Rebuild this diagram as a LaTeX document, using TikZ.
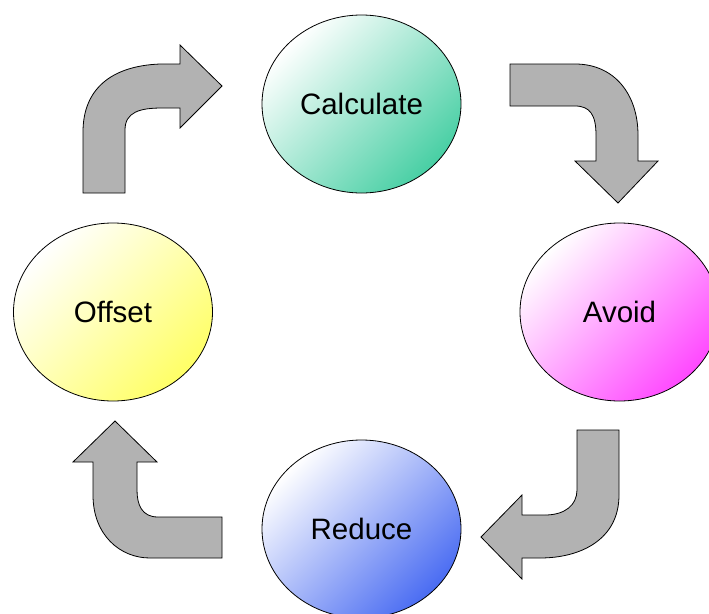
\documentclass[tikz,border=0pt]{standalone}
\usepackage{fontspec}
\setmainfont{Liberation Sans}
\usetikzlibrary{shapes.geometric}
\definecolor{cgreen}{HTML}{48CFA4}
\definecolor{cmag}{HTML}{FF48FF}
\definecolor{cyel}{HTML}{FFFF66}
\definecolor{cblue}{HTML}{4A6CF2}
\definecolor{agray}{HTML}{B2B2B2}
\tikzset{
  bubble/.style={ellipse, draw=black, line width=0.8pt, minimum width=199pt, minimum height=178pt, inner sep=0pt,
    font=\fontsize{29.5}{34}\selectfont},
  fillwith/.style={top color=white, bottom color=#1, shading angle=45},
  bigarrow/.style={fill=agray, draw=black, line width=0.8pt, line join=miter}
}
\begin{document}
\begin{tikzpicture}[x=1pt,y=-1pt]
\useasboundingbox (0,0) rectangle (709,613);
\fill[white] (0,0) rectangle (709,613);
\node[bubble, fillwith=cgreen] (calc) at (361.5,104) {Calculate};
\node[bubble, fillwith=cmag] (avoid) at (619.5,312) {Avoid};
\node[bubble, fillwith=cblue] (reduce) at (361.5,529) {Reduce};
\node[bubble, fillwith=cyel] (offset) at (113,312) {Offset};
% Offset -> Calculate
\draw[bigarrow] (83,193) -- (125,193) -- (125,130) .. controls (125,112) and (140,108) .. (162,108) -- (180,108)
  -- (180,128) -- (222,86) -- (180,45) -- (180,64) -- (160,64) .. controls (110,66) and (83,90) .. (83,132) -- cycle;
% Calculate -> Avoid
\draw[bigarrow] (510,64) -- (575,64) .. controls (615,64) and (638,95) .. (638,135) -- (638,161)
  -- (658,161) -- (618,203) -- (575,161) -- (596,161) -- (596,135) .. controls (596,115) and (590,106) .. (575,106) -- (510,106) -- cycle;
% Avoid -> Reduce
\draw[bigarrow] (577,430) -- (619,430) -- (619,495) .. controls (619,540) and (580,558) .. (540,558) -- (522,558)
  -- (522,579) -- (481,537) -- (522,495) -- (522,515) -- (545,515) .. controls (565,515) and (577,505) .. (577,490) -- cycle;
% Reduce -> Offset
\draw[bigarrow] (222,517) -- (158,517) .. controls (142,517) and (137,505) .. (137,490) -- (137,462)
  -- (157,462) -- (115,421) -- (73,462) -- (93,462) -- (93,495) .. controls (93,535) and (120,558) .. (150,558) -- (222,558) -- cycle;
\end{tikzpicture}
\end{document}
